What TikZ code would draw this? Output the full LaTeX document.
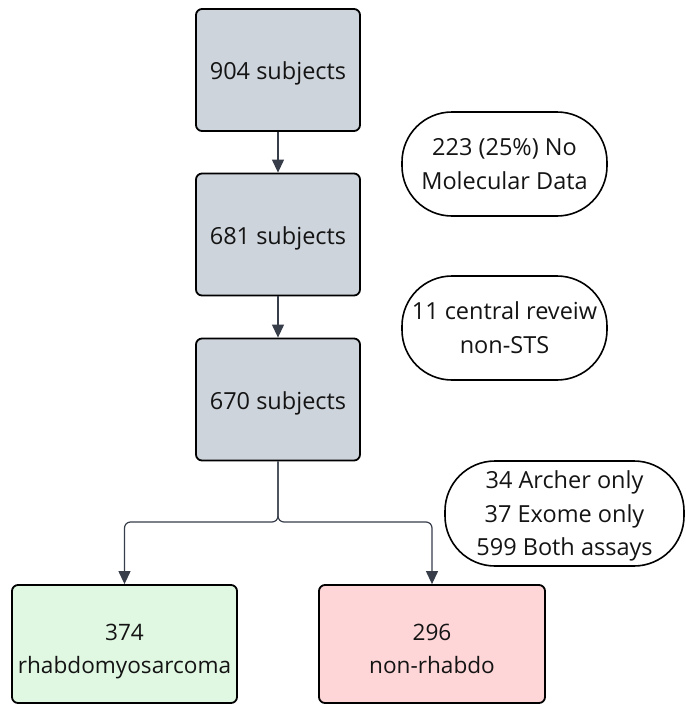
\documentclass[tikz,border=0pt]{standalone}
\usepackage{fontspec}
\setmainfont{Open Sans}
\usetikzlibrary{arrows.meta}
\definecolor{boxgray}{RGB}{206,212,220}
\definecolor{boxgreen}{RGB}{224,248,226}
\definecolor{boxred}{RGB}{255,214,216}
\definecolor{linkgray}{RGB}{55,62,74}
\definecolor{ink}{RGB}{20,20,20}
% centred lines of text, set a little lower inside the node
\newcommand{\lowtext}[2]{\raisebox{-#1}[\height][\depth]{\begin{tabular}{@{}c@{}}#2\end{tabular}}}
\tikzset{
  stagebox/.style={draw=black, line width=1.8pt, rounded corners=6pt,
    minimum width=164pt, minimum height=122pt, inner sep=0pt,
    text=ink, font=\fontsize{23.5}{33.5}\selectfont},
  pillbox/.style={draw=black, line width=1.6pt, rounded corners=50pt,
    fill=white, inner sep=0pt, text=ink,
    font=\fontsize{23.5}{33.5}\selectfont},
  link/.style={draw=linkgray, line width=1.2pt,
    -{Triangle[length=13pt,width=12pt]}},
}
\begin{document}
\begin{tikzpicture}[x=1pt,y=-1pt]
\useasboundingbox[fill=white] (0,0) rectangle (686,705);

% main chain of subject counts
\node[stagebox, fill=boxgray] (s904) at (278,70) {\lowtext{3pt}{904 subjects}};
\node[stagebox, fill=boxgray] (s681) at (278,234.5) {\lowtext{3pt}{681 subjects}};
\node[stagebox, fill=boxgray] (s670) at (278,399.5) {\lowtext{3pt}{670 subjects}};

% final split
\node[stagebox, fill=boxgreen, minimum width=225pt, minimum height=118pt,
      font=\fontsize{22.6}{33}\selectfont] (rms) at (124.5,644) {\lowtext{6pt}{374\\rhabdomyosarcoma}};
\node[stagebox, fill=boxred, minimum width=226pt, minimum height=118pt,
      font=\fontsize{22.6}{33}\selectfont] (nrms) at (432,644) {\lowtext{6pt}{296\\non-rhabdo}};

% exclusion / assay notes
\node[pillbox, minimum width=205pt, minimum height=104pt] (nomol) at (504.5,164) {\lowtext{2pt}{223 (25\%) No\\Molecular Data}};
\node[pillbox, minimum width=205pt, minimum height=104pt] (nonsts) at (504.5,328) {\lowtext{2pt}{11 central reveiw\\non-STS}};
\node[pillbox, minimum width=239pt, minimum height=105pt] (assays) at (564.5,513.5) {\lowtext{2pt}{34 Archer only\\37 Exome only\\599 Both assays}};

% connectors
\coordinate (fork) at (278,522);
\draw[link] (s904) -- (s681);
\draw[link] (s681) -- (s670);
\draw[link, rounded corners=6pt] (s670.south) -- (fork) -| (rms.north);
\draw[link, rounded corners=6pt] (s670.south) -- (fork) -| (nrms.north);
\end{tikzpicture}
\end{document}
